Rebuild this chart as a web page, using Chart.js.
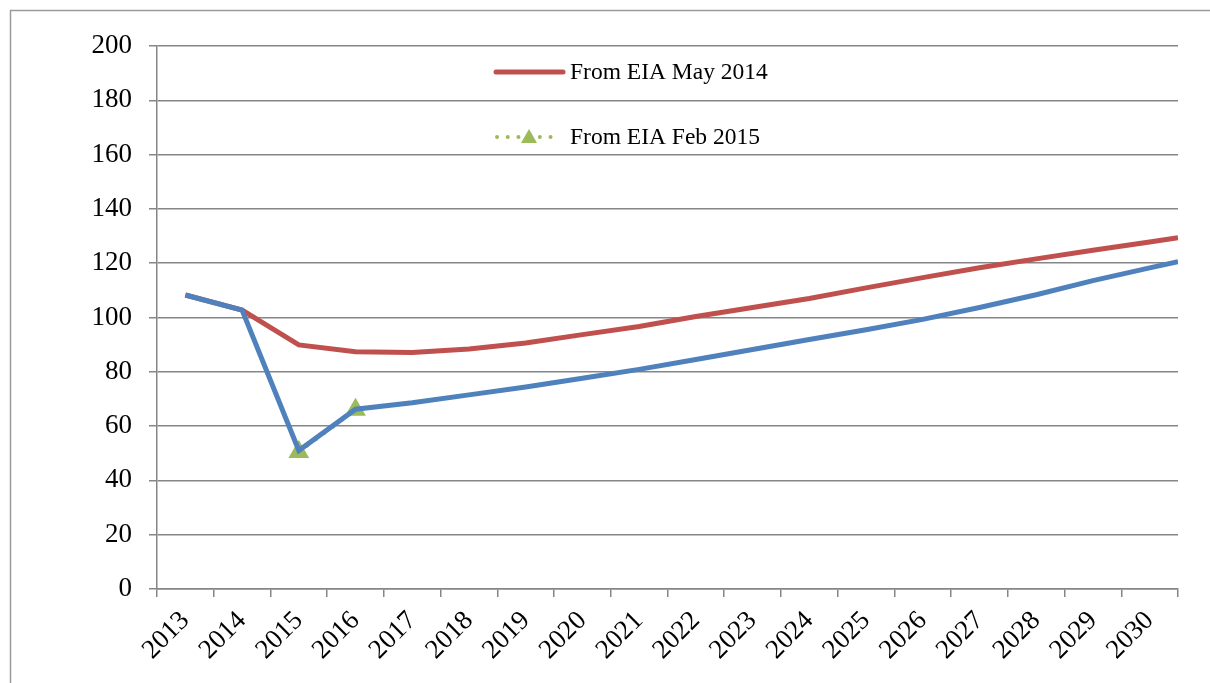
<!DOCTYPE html>
<html>
<head>
<meta charset="utf-8">
<script src="https://cdn.jsdelivr.net/npm/chart.js@4"></script>
<style>
	html, body { margin: 0; padding: 0; background: #ffffff; }
	#wrap { width: 1210px; height: 683px; position: relative; overflow: hidden; }
</style>
</head>
<body>
<div id="wrap"><canvas id="chart" width="1210" height="683"></canvas></div>
<script>
// categories (x axis)
const years = [2013, 2014, 2015, 2016, 2017, 2018, 2019, 2020, 2021, 2022, 2023, 2024, 2025, 2026, 2027, 2028, 2029, 2030];
// the two lines run on to the right edge of the plot, half a category past 2030
const lineYears = [...years, 2030.5];

const may2014 = [108.3, 102.7, 89.9, 87.4, 87.1, 88.4, 90.6, 93.7, 96.7, 100.4, 103.7, 107.0, 110.9, 114.7, 118.3, 121.6, 124.8, 127.8, 129.4];
const current = [108.3, 102.7, 51.0, 66.2, 68.6, 71.5, 74.4, 77.6, 80.9, 84.5, 88.2, 91.9, 95.5, 99.3, 103.7, 108.4, 113.6, 118.3, 120.6];
const feb2015Years = [2015, 2016];
const feb2015 = [50.5, 66.0];

const yTicks = [0, 20, 40, 60, 80, 100, 120, 140, 160, 180, 200];

const RED = "#c0504d";
const BLUE = "#4f81bd";
const GREEN = "#9bbb59";
const GRID = "#868686";
const FONT = "'Liberation Serif', 'Times New Roman', serif";

const toPoints = (xs, ys) => xs.map((x, i) => ({ x: x, y: ys[i] }));

// frame round the whole chart + legend drawn inside the plot
const framePlugin = {
	id: "frame",
	beforeDraw(chart) {
		const ctx = chart.ctx;
		ctx.save();
		ctx.strokeStyle = "#9a9a9a";
		ctx.lineWidth = 1.5;
		ctx.strokeRect(10.5, 10.5, 1400, 1000);
		ctx.restore();
	},
	afterDraw(chart) {
		const ctx = chart.ctx;
		ctx.save();
		ctx.font = "23.5px " + FONT;
		ctx.fillStyle = "#000000";
		ctx.textBaseline = "middle";

		// red item
		ctx.strokeStyle = RED;
		ctx.lineWidth = 5;
		ctx.lineCap = "round";
		ctx.beginPath();
		ctx.moveTo(496, 72);
		ctx.lineTo(563, 72);
		ctx.stroke();
		ctx.fillText(chart.data.datasets[1].label, 570, 73);

		// green item
		ctx.strokeStyle = GREEN;
		ctx.lineWidth = 4;
		ctx.setLineDash([0.01, 10.7]);
		ctx.beginPath();
		ctx.moveTo(497, 137);
		ctx.lineTo(560, 137);
		ctx.stroke();
		ctx.setLineDash([]);
		ctx.fillStyle = GREEN;
		ctx.beginPath();
		ctx.moveTo(529, 129);
		ctx.lineTo(537, 143);
		ctx.lineTo(521, 143);
		ctx.closePath();
		ctx.fill();
		ctx.fillStyle = "#000000";
		ctx.fillText(chart.data.datasets[2].label, 570, 138);
		ctx.restore();
	},
};

new Chart(document.getElementById("chart"), {
	type: "line",
	data: {
		datasets: [
			{
				label: "",
				data: toPoints(lineYears, current),
				borderColor: BLUE,
				borderWidth: 5,
				pointRadius: 0,
				tension: 0,
			},
			{
				label: "From EIA May 2014",
				data: toPoints(lineYears, may2014),
				borderColor: RED,
				borderWidth: 5,
				pointRadius: 0,
				tension: 0,
			},
			{
				label: "From EIA Feb 2015",
				data: toPoints(feb2015Years, feb2015),
				borderColor: GREEN,
				borderWidth: 4,
				borderDash: [0.01, 10.7],
				borderCapStyle: "round",
				pointStyle: "triangle",
				pointRadius: 12,
				pointBackgroundColor: GREEN,
				pointBorderColor: GREEN,
				pointBorderWidth: 0,
				tension: 0,
			},
		],
	},
	options: {
		responsive: false,
		animation: false,
		events: [],
		layout: { padding: { left: 0, top: 46, right: 32, bottom: 0 } },
		plugins: {
			legend: { display: false },
			tooltip: { enabled: false },
		},
		scales: {
			x: {
				type: "linear",
				min: 2012.5,
				max: 2030.5,
				afterBuildTicks: (scale) => {
					scale.ticks = years.map((v) => ({ value: v }));
				},
				afterFit: (scale) => {
					scale.height = 94;
				},
				grid: {
					offset: true,
					drawOnChartArea: false,
					color: GRID,
					lineWidth: 1.5,
					tickLength: 8,
				},
				border: { color: GRID, width: 1.5 },
				ticks: {
					autoSkip: false,
					minRotation: 45,
					maxRotation: 45,
					padding: 8,
					color: "#000000",
					font: { family: FONT, size: 27 },
					callback: (v) => String(v),
				},
			},
			y: {
				min: 0,
				max: 200,
				afterBuildTicks: (scale) => {
					scale.ticks = yTicks.map((v) => ({ value: v }));
				},
				afterFit: (scale) => {
					scale.width = 157;
				},
				grid: {
					color: GRID,
					lineWidth: 1.5,
					tickLength: 8,
				},
				border: { color: GRID, width: 1.5 },
				ticks: {
					padding: 17,
					color: "#000000",
					font: { family: FONT, size: 27 },
				},
			},
		},
	},
	plugins: [framePlugin],
});
</script>
</body>
</html>
